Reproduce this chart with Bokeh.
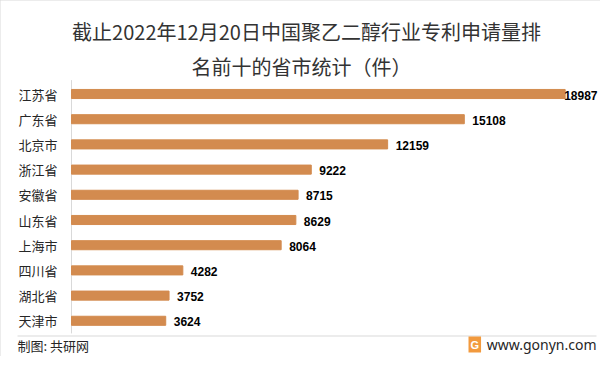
from bokeh.plotting import figure
from bokeh.models import Range1d, Label, ColumnDataSource
from bokeh.core.properties import value
from bokeh.embed import file_html
from bokeh.resources import INLINE

# ---- data ----
provinces = ["江苏省", "广东省", "北京市", "浙江省", "安徽省", "山东省", "上海市", "四川省", "湖北省", "天津市"]
patents = [18987, 15108, 12159, 9222, 8715, 8629, 8064, 4282, 3752, 3624]
title_line1 = "截止2022年12月20日中国聚乙二醇行业专利申请量排"
title_line2 = "名前十的省市统计（件）"
source_note = "制图: 共研网"
site_note = "www.gonyn.com"

BAR = "#D38B4F"
CJK = "Noto Sans CJK SC"

W, H = 600, 356
X0_PX = 71          # pixel where value 0 sits
PX_PER_UNIT = 0.0260
TOP_CENTER = 93.5   # pixel centre of first bar
BAND = 25.2         # px per category

rank = list(range(len(provinces)))
label_offsets = [-1] + [8] * (len(patents) - 1)

src = ColumnDataSource(dict(rank=rank, cat=provinces, val=patents,
                            zero=[0] * len(patents),
                            txt=[str(v) for v in patents], off=label_offsets))

p = figure(width=W, height=H, output_backend="svg", toolbar_location=None,
           x_range=Range1d(-X0_PX / PX_PER_UNIT, (W - X0_PX) / PX_PER_UNIT),
           y_range=Range1d((H - TOP_CENTER) / BAND, -TOP_CENTER / BAND),
           min_border=0, background_fill_color="white",
           border_fill_color="white", outline_line_color=None)
p.styles = {"outline": "1px solid #D9D9D9", "outline-offset": "-1px"}
p.axis.visible = False
p.grid.visible = False

# category axis line
p.segment(x0=0, y0=rank[0] - 0.55, x1=0, y1=rank[-1] + 0.5,
          line_color="#D9D9D9", line_width=1)

p.hbar(y="rank", right="val", left=0, height=0.36, color=BAR, source=src)

# value labels
p.text(x="val", y="rank", text="txt", x_offset="off", y_offset=1, source=src,
       text_font=value("Liberation Sans"), text_font_style="bold", text_font_size="12px",
       text_color="#000000", text_baseline="middle", text_align="left")

# category labels
p.text(x="zero", y="rank", text="cat", x_offset=-14, source=src,
       text_font=value(CJK), text_font_size="13px", text_color="#262626",
       text_baseline="middle", text_align="right")


def lab(x, y, t, size, align="center", color="#333333", font=CJK, style="normal"):
    p.add_layout(Label(x=x, y=H - y, x_units="screen", y_units="screen", text=t,
                       text_font=font, text_font_size=size, text_color=color,
                       text_align=align, text_baseline="middle", text_font_style=style))

# title
lab(306, 31, title_line1, "20px")
lab(301, 66, title_line2, "20px")

# footer
lab(17, 345, source_note, "13px", align="left", color="#262626")
lab(596, 344, site_note, "14px", align="right", color="#262626", font="Noto Sans")
p.add_layout(Label(x=468, y=H - 344, x_units="screen", y_units="screen",
                   text="G", text_font="Liberation Sans", text_font_style="bold",
                   text_font_size="11px", text_color="white", text_baseline="middle",
                   background_fill_color="#F29A3E", padding=2))

# separator line (pixel positions converted through the plot's scales)
sep_y = (335.5 - TOP_CENTER) / BAND
p.segment(x0=(17 - X0_PX) / PX_PER_UNIT, y0=sep_y,
          x1=(596 - X0_PX) / PX_PER_UNIT, y1=sep_y,
          line_color="#DADADA", line_width=1.2)

open("out.html", "w").write(file_html(p, INLINE))
